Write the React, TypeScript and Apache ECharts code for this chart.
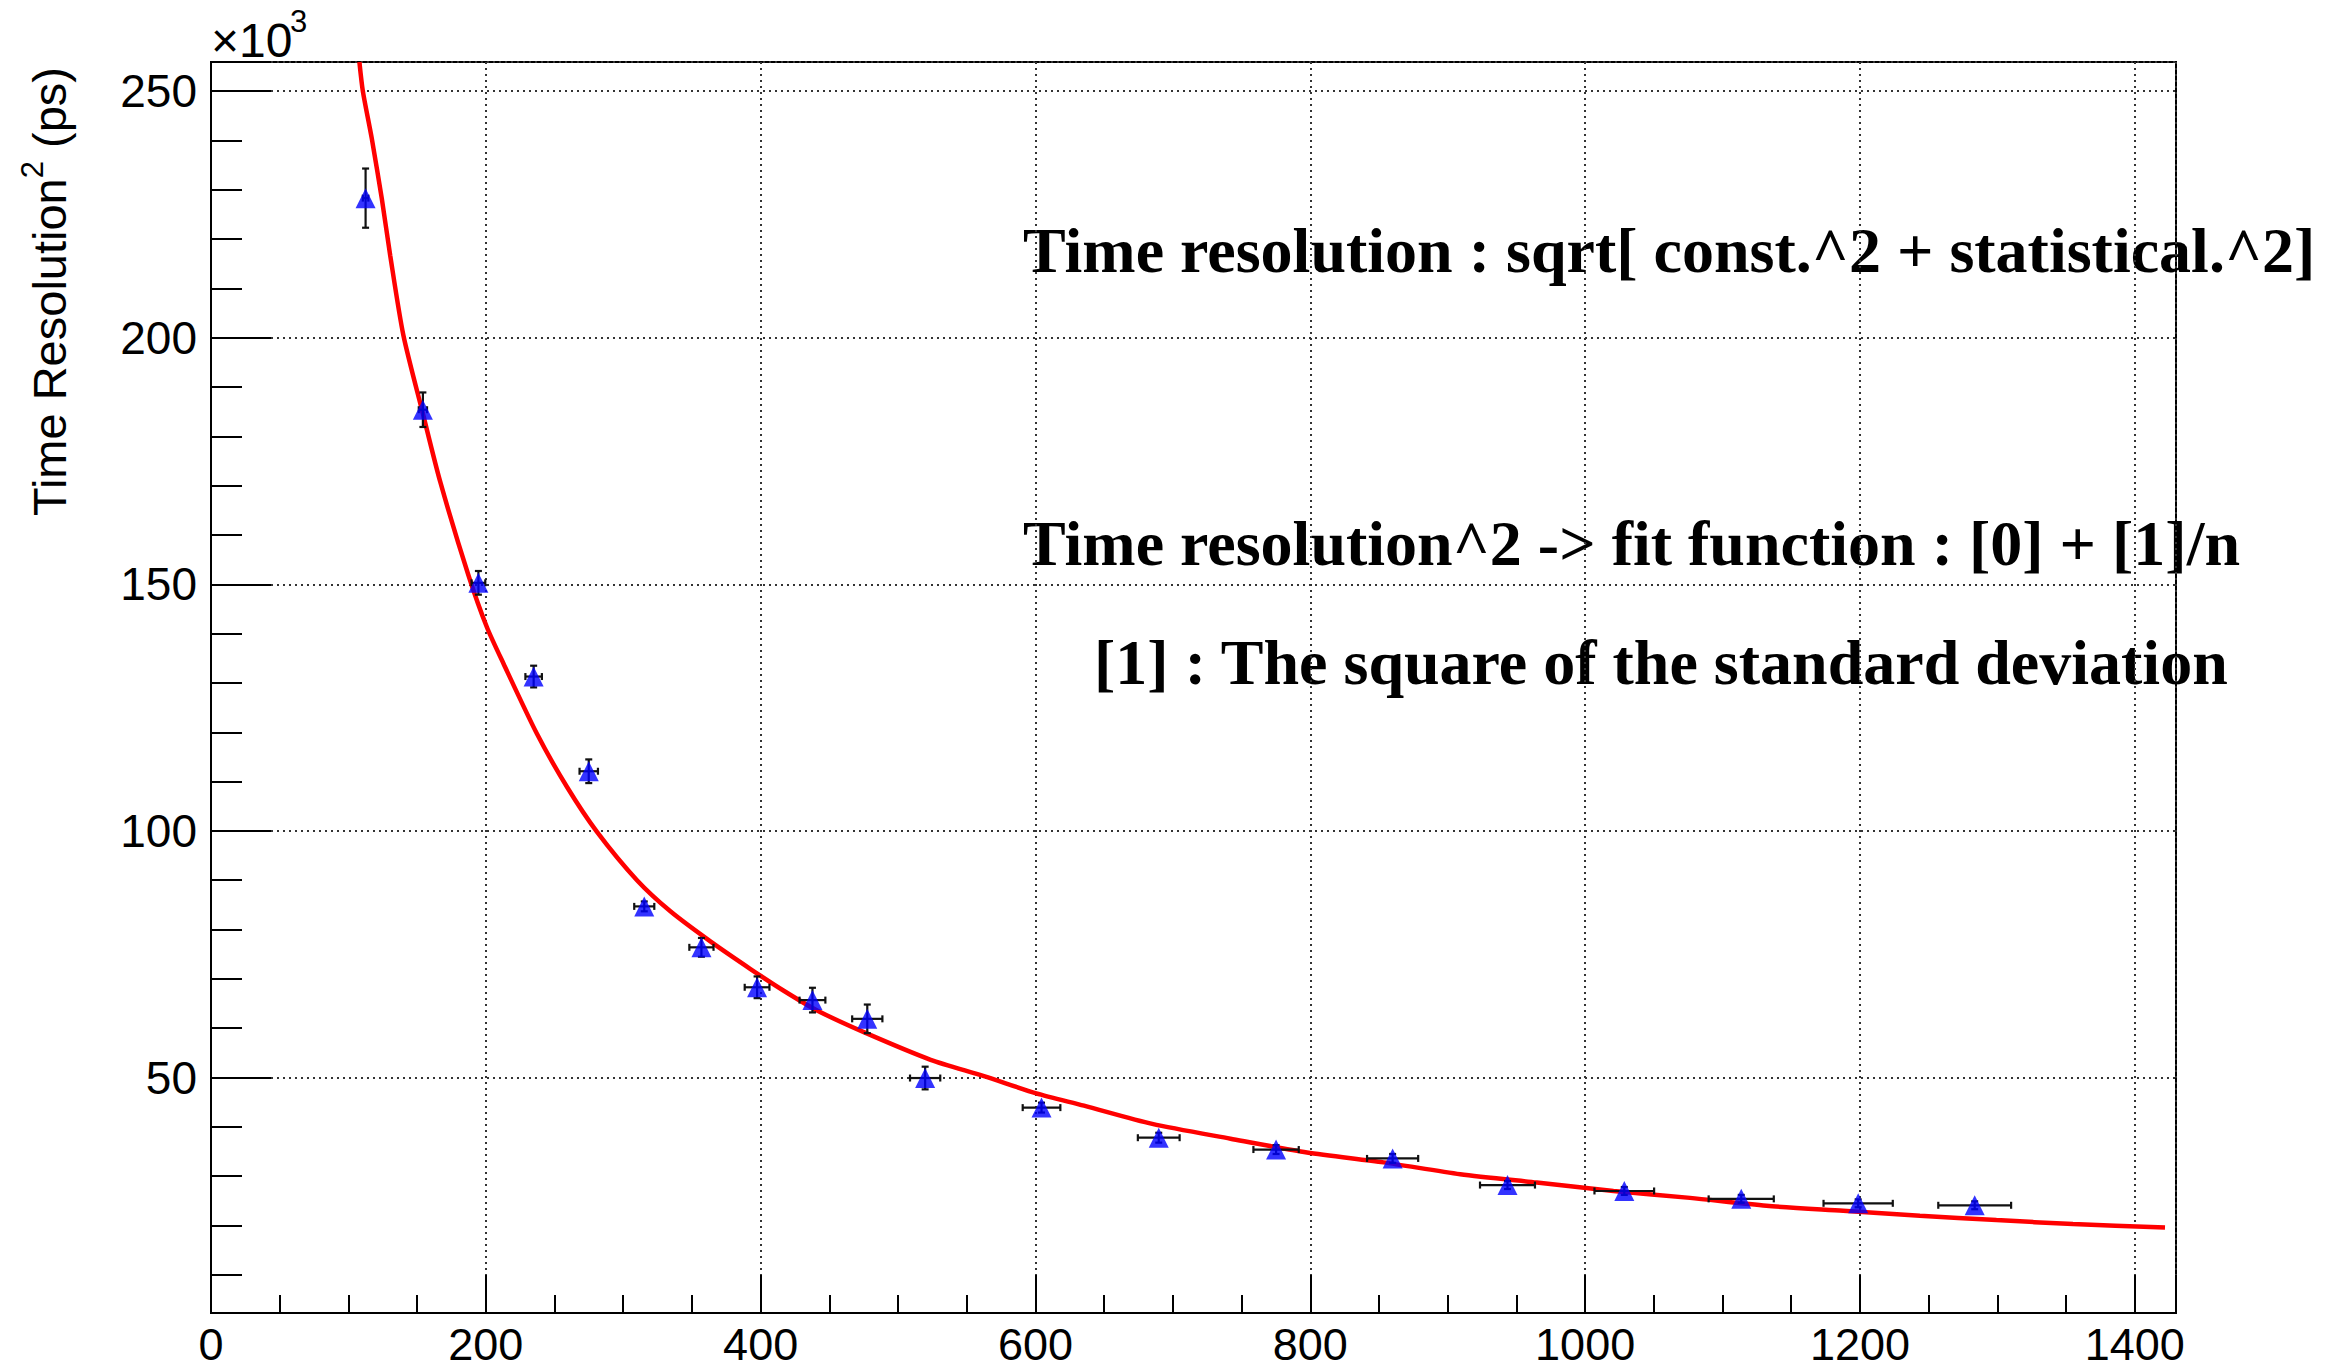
import React, { useEffect, useRef } from 'react';
import * as echarts from 'echarts';

// Data points (x in n, y in units of 10^3 ps^2)
const pointX = [112.5, 154.2, 194.6, 234.8, 274.9, 315.3, 356.9, 397.4, 437.7, 477.6, 519.7, 604.4, 689.7, 775.1, 859.9, 943.5, 1028.5, 1113.6, 1198.7, 1283.5];
const pointY = [228.3, 185.4, 150.3, 131.3, 112.1, 84.7, 76.4, 68.3, 65.7, 61.9, 49.9, 43.9, 37.8, 35.4, 33.6, 28.2, 27.0, 25.4, 24.5, 24.1];
const pointXErr = [2, 3, 5, 6, 6.7, 7.3, 8.8, 9.0, 9.4, 11, 11, 13.7, 15.2, 16.5, 18.6, 20, 21.7, 23.7, 25.2, 26.5];
const pointYErr = [6.0, 3.5, 2.4, 2.2, 2.4, 1.0, 1.9, 2.2, 2.5, 2.9, 2.3, 1.0, 1.0, 0.9, 0.9, 0.8, 0.8, 0.8, 0.8, 0.8];

// Fit curve
const fitX = [108.0, 110.5, 117.0, 124.3, 130.4, 140.0, 154.2, 166.8, 187.4, 200.8, 212.9, 237.2, 259.1, 280.9, 310.0, 334.3, 363.4, 392.6, 416.8, 441.1, 475.1, 523.7, 562.5, 600.6, 635.3, 685.0, 741.9, 797.6, 853.3, 909.1, 964.8, 1020.6, 1076.3, 1132.0, 1187.8, 1243.6, 1299.3, 1355.0, 1422.0];
const fitY = [255.9, 250.0, 240.4, 228.2, 216.7, 200.5, 184.6, 170.8, 151.8, 141.3, 133.9, 119.7, 108.9, 99.8, 90.0, 83.7, 77.6, 72.0, 67.6, 63.6, 59.2, 53.6, 50.3, 46.8, 44.3, 40.6, 37.6, 34.8, 32.8, 30.4, 28.7, 27.0, 25.6, 24.0, 23.0, 22.0, 21.1, 20.3, 19.6];

const xTickLabels = ['0', '200', '400', '600', '800', '1000', '1200', '1400'];
const yTickLabels = ['50', '100', '150', '200', '250'];

const yAxisTitleMain = 'Time Resolution';
const yAxisTitleSup = '2';
const yAxisTitleEnd = ' (ps)';
const yScaleText = '×10';
const yScaleExp = '3';
const noteLines = [
  'Time resolution : sqrt[ const.^2 + statistical.^2]',
  'Time resolution^2 -> fit function : [0] + [1]/n',
  '[1] : The square of the standard deviation',
];

const X_MIN = 0;
const X_MAX = 1430;
const Y_MIN = 2.26;
const Y_MAX = 255.9;

const SANS = '"Liberation Sans", Arial, Helvetica, sans-serif';
const SERIF = '"Liberation Serif", "Times New Roman", serif';

export default function App() {
  const ref = useRef<HTMLDivElement>(null);

  useEffect(() => {
    if (!ref.current) return;
    const chart = echarts.init(ref.current, undefined, { renderer: 'svg' });

    const gridDash = { type: [2, 4] as any, width: 2, color: '#333' };

    const option: any = {
      animation: false,
      backgroundColor: '#ffffff',
      grid: {
        left: 211,
        top: 62,
        width: 1965,
        height: 1251,
        show: true,
        borderColor: '#000',
        borderWidth: 2,
        backgroundColor: 'transparent',
      },
      xAxis: {
        type: 'value',
        min: X_MIN,
        max: X_MAX,
        interval: 200,
        axisLine: { show: true, onZero: false, lineStyle: { color: '#000', width: 2 } },
        axisTick: { show: true, inside: true, length: 38, lineStyle: { color: '#000', width: 2 } },
        minorTick: { show: true, splitNumber: 4, length: 18, lineStyle: { color: '#000', width: 2 } },
        splitLine: { show: true, lineStyle: gridDash },
        axisLabel: {
          show: true,
          margin: 11,
          color: '#000',
          fontFamily: SANS,
          fontSize: 45,
          lineHeight: 40,
          showMinLabel: true,
          showMaxLabel: false,
          formatter: (v: number) => (xTickLabels.includes(String(v)) ? String(v) : ''),
        },
      },
      yAxis: {
        type: 'value',
        min: Y_MIN,
        max: Y_MAX,
        splitNumber: 5,
        axisLine: { show: true, onZero: false, lineStyle: { color: '#000', width: 2 } },
        axisTick: { show: true, inside: true, length: 60, lineStyle: { color: '#000', width: 2 } },
        minorTick: { show: true, splitNumber: 5, length: 31, lineStyle: { color: '#000', width: 2 } },
        splitLine: { show: true, lineStyle: gridDash },
        axisLabel: {
          show: true,
          margin: 14,
          color: '#000',
          fontFamily: SANS,
          fontSize: 46,
          showMinLabel: false,
          showMaxLabel: false,
          formatter: (v: number) => (yTickLabels.includes(String(v)) ? String(v) : ''),
        },
      },
      series: [
        {
          name: 'fit',
          type: 'line',
          data: fitX.map((x, i) => [x, fitY[i]]),
          showSymbol: false,
          symbol: 'none',
          smooth: 0.25,
          lineStyle: { color: '#ff0000', width: 4.5 },
          z: 2,
          silent: true,
        },
        {
          name: 'errors',
          type: 'custom',
          data: pointX.map((x, i) => [x, pointY[i], pointXErr[i], pointYErr[i]]),
          encode: { x: 0, y: 1 },
          z: 3,
          renderItem: (params: any, api: any) => {
            const x = api.value(0);
            const y = api.value(1);
            const ex = api.value(2);
            const ey = api.value(3);
            const c = api.coord([x, y]);
            const l = api.coord([x - ex, y]);
            const r = api.coord([x + ex, y]);
            const t = api.coord([x, y + ey]);
            const b = api.coord([x, y - ey]);
            const cap = 3.5;
            const style = { stroke: '#111', lineWidth: 2.2 };
            return {
              type: 'group',
              children: [
                { type: 'line', shape: { x1: l[0], y1: c[1], x2: r[0], y2: c[1] }, style },
                { type: 'line', shape: { x1: l[0], y1: c[1] - cap, x2: l[0], y2: c[1] + cap }, style },
                { type: 'line', shape: { x1: r[0], y1: c[1] - cap, x2: r[0], y2: c[1] + cap }, style },
                { type: 'line', shape: { x1: c[0], y1: t[1], x2: c[0], y2: b[1] }, style },
                { type: 'line', shape: { x1: c[0] - cap, y1: t[1], x2: c[0] + cap, y2: t[1] }, style },
                { type: 'line', shape: { x1: c[0] - cap, y1: b[1], x2: c[0] + cap, y2: b[1] }, style },
              ],
            };
          },
        },
        {
          name: 'data',
          type: 'scatter',
          data: pointX.map((x, i) => [x, pointY[i]]),
          symbol: 'triangle',
          symbolSize: 20,
          itemStyle: { color: '#0000ff' },
          z: 4,
        },
      ],
      graphic: [
        {
          type: 'text',
          x: 45,
          y: 67,
          rotation: Math.PI / 2,
          style: {
            text: `{m|${yAxisTitleMain}}{s|${yAxisTitleSup}}{m|${yAxisTitleEnd}}`,
            fill: '#000',
            align: 'right',
            verticalAlign: 'middle',
            rich: {
              m: { fontFamily: SANS, fontSize: 47, lineHeight: 56, fill: '#000', verticalAlign: 'bottom' },
              s: { fontFamily: SANS, fontSize: 31, lineHeight: 40, fill: '#000', verticalAlign: 'top' },
            },
          },
        },
        {
          type: 'text',
          x: 211,
          y: 40,
          style: { text: yScaleText, font: `48px ${SANS}`, fill: '#000', align: 'left', verticalAlign: 'middle' },
        },
        {
          type: 'text',
          x: 290,
          y: 21,
          style: { text: yScaleExp, font: `31px ${SANS}`, fill: '#000', align: 'left', verticalAlign: 'middle' },
        },
        {
          type: 'text',
          x: 1023,
          y: 250,
          style: { text: noteLines[0], font: `bold 64px ${SERIF}`, fill: '#000', align: 'left', verticalAlign: 'middle' },
        },
        {
          type: 'text',
          x: 1023,
          y: 543,
          style: { text: noteLines[1], font: `bold 64px ${SERIF}`, fill: '#000', align: 'left', verticalAlign: 'middle' },
        },
        {
          type: 'text',
          x: 1094,
          y: 662,
          style: { text: noteLines[2], font: `bold 64px ${SERIF}`, fill: '#000', align: 'left', verticalAlign: 'middle' },
        },
      ],
    };

    chart.setOption(option);
    return () => {
      chart.dispose();
    };
  }, []);

  return (
    <div
      ref={ref}
      style={{ position: 'absolute', left: 0, top: 0, width: 2343, height: 1369, background: '#fff' }}
    />
  );
}
